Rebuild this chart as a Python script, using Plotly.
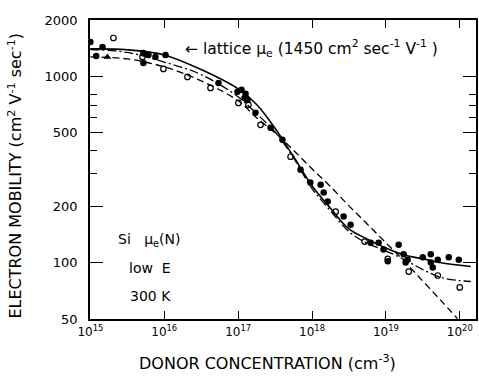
import plotly.graph_objects as go

# ---- data ----
curve_n = [1.0e15, 3.16e15, 1.0e16, 3.16e16, 1.0e17, 1.78e17, 3.16e17, 5.62e17, 1.0e18,
           1.78e18, 3.16e18, 5.62e18, 1.0e19, 1.78e19, 3.16e19, 5.62e19, 1.0e20, 1.41e20]
solid_mu = [1400, 1385, 1300, 1085, 855, 705, 526, 371, 259,
            196, 152, 134, 120, 110, 105, 100, 97, 95.5]
dashdot_mu = [1390, 1340, 1190, 1020, 775, 629, 503, 365, 250,
              190, 147, 127, 116, 104, 92, 83.4, 80.3, 79.4]

dashed_n = [1.0e15, 3.16e15, 1.0e16, 3.16e16, 1.0e17, 1.78e17, 3.16e17, 5.62e17, 1.0e18,
            1.78e18, 3.16e18, 5.62e18, 1.0e19, 1.78e19, 3.16e19, 5.62e19, 9.3e19]
dashed_mu = [1268, 1237, 1122, 944, 738, 598, 497, 401, 319,
             256, 202, 161, 128, 102, 79.8, 62.5, 50.3]

filled_n = [1.0e15, 1.46e15, 1.2e15, 5.22e15, 6.11e15, 7.6e15, 1.04e16, 5.22e15, 5.42e16,
            9.8e16, 1.11e17, 1.26e17, 1.34e17, 1.22e17, 1.72e17, 2.75e17, 3.98e17, 7.0e17,
            9.5e17, 1.31e18, 1.44e18, 1.63e18, 2.68e18, 3.33e18, 6.22e18, 7.98e18, 9.3e18,
            1.06e19, 1.49e19, 1.74e19, 1.97e19, 1.85e19, 3.16e19, 4.05e19, 4.05e19, 4.31e19,
            5.04e19, 7.1e19, 9.7e19]
filled_mu = [1525, 1435, 1284, 1332, 1300, 1268, 1300, 1178, 920,
             824, 845, 804, 746, 765, 636, 529, 456, 315,
             269, 262, 238, 213, 177, 160, 128, 128, 118,
             102, 125, 111, 104, 100.5, 107, 111, 100.5, 94.4,
             104, 107, 104]

open_n = [2.05e15, 5.07e15, 9.75e15, 2.06e16, 4.23e16, 1.01e17, 1.38e17, 2.01e17,
          5.13e17, 2.09e18, 5.16e18, 1.06e19, 2.04e19, 5.04e19, 1.0e20]
open_mu = [1602, 1268, 1094, 991, 865, 719, 702, 549,
           370, 188, 130, 105, 89.8, 85.5, 73.8]

tri_n = [1.7e15]
tri_mu = [1268]

x_tickvals = [1e15, 1e16, 1e17, 1e18, 1e19, 1e20]
x_ticktext = ["10<sup>15</sup>", "10<sup>16</sup>", "10<sup>17</sup>",
              "10<sup>18</sup>", "10<sup>19</sup>", "10<sup>20</sup>"]
y_tickvals = [50, 100, 200, 500, 1000, 2000]
y_ticktext = ["50", "100", "200", "500", "1000", "2000"]
y_minor = [300, 400, 600, 700, 800]

FONT = "DejaVu Sans"

fig = go.Figure()
fig.add_trace(go.Scatter(x=curve_n, y=solid_mu, mode="lines",
                         line=dict(color="black", width=1.6, shape="spline", smoothing=1),
                         showlegend=False))
fig.add_trace(go.Scatter(x=curve_n, y=dashdot_mu, mode="lines",
                         line=dict(color="black", width=1.3, dash="9px,3px,2px,3px",
                                   shape="spline", smoothing=1),
                         showlegend=False))
fig.add_trace(go.Scatter(x=dashed_n, y=dashed_mu, mode="lines",
                         line=dict(color="black", width=1.3, dash="7px,4px",
                                   shape="spline", smoothing=1),
                         showlegend=False))
fig.add_trace(go.Scatter(x=filled_n, y=filled_mu, mode="markers",
                         marker=dict(symbol="circle", size=6.5, color="black"),
                         showlegend=False))
fig.add_trace(go.Scatter(x=open_n, y=open_mu, mode="markers",
                         marker=dict(symbol="circle-open", size=5.5, color="black",
                                     line=dict(width=1.2)),
                         showlegend=False))
fig.add_trace(go.Scatter(x=tri_n, y=tri_mu, mode="markers",
                         marker=dict(symbol="triangle-up", size=7, color="black"),
                         showlegend=False))

fig.update_layout(
    width=479, height=381,
    margin=dict(l=90, r=3, t=20, b=62),
    paper_bgcolor="white", plot_bgcolor="white",
    font=dict(family=FONT, color="black"),
    xaxis=dict(
        type="log", range=[14.995, 20.22],
        showgrid=False, zeroline=False,
        showline=True, linecolor="black", linewidth=1.5, mirror="ticks",
        ticks="inside", ticklen=8, tickwidth=1.3, tickcolor="black",
        tickvals=x_tickvals, ticktext=x_ticktext,
        tickfont=dict(family=FONT, size=12, color="black"),
        ticklabelstandoff=1,
        automargin=False,
    ),
    yaxis=dict(
        type="log", range=[1.69897, 3.30103],
        showgrid=False, zeroline=False,
        showline=True, linecolor="black", linewidth=1.5, mirror="ticks",
        ticks="inside", ticklen=13, tickwidth=1.3, tickcolor="black",
        tickvals=y_tickvals, ticktext=y_ticktext,
        minor=dict(tickvals=y_minor, ticks="inside", ticklen=7, tickwidth=1.2,
                   tickcolor="black", showgrid=False),
        tickfont=dict(family=FONT, size=13, color="black"),
        ticklabelstandoff=8,
        automargin=False,
    ),
)

# axis titles
fig.add_annotation(xref="paper", yref="paper", x=0.461, y=-0.144,
                   xanchor="center", yanchor="middle", showarrow=False,
                   text="DONOR CONCENTRATION (cm<sup>-3</sup>)",
                   font=dict(family=FONT, size=16, color="black"))
fig.add_annotation(xref="paper", yref="paper", x=-0.194, y=0.48,
                   xanchor="center", yanchor="middle", showarrow=False, textangle=-90,
                   text="ELECTRON MOBILITY (cm<sup>2</sup> V<sup>-1</sup> sec<sup>-1</sup>)",
                   font=dict(family=FONT, size=16, color="black"))

fig.add_annotation(xref="paper", yref="paper", x=0.241, y=0.906,
                   xanchor="left", yanchor="middle", showarrow=False,
                   text="← lattice μ<sub>e</sub> (1450 cm<sup>2</sup> sec<sup>-1</sup> V<sup>-1</sup> )",
                   font=dict(family=FONT, size=15.5, color="black"))
fig.add_annotation(xref="paper", yref="paper", x=0.067, y=0.264,
                   xanchor="left", yanchor="middle", showarrow=False,
                   text="Si   μ<sub>e</sub>(N)",
                   font=dict(family=FONT, size=14, color="black"))
fig.add_annotation(xref="paper", yref="paper", x=0.096, y=0.171,
                   xanchor="left", yanchor="middle", showarrow=False,
                   text="low  E",
                   font=dict(family=FONT, size=14, color="black"))
fig.add_annotation(xref="paper", yref="paper", x=0.098, y=0.077,
                   xanchor="left", yanchor="middle", showarrow=False,
                   text="300 K",
                   font=dict(family=FONT, size=14, color="black"))

fig.write_html("out.html")
